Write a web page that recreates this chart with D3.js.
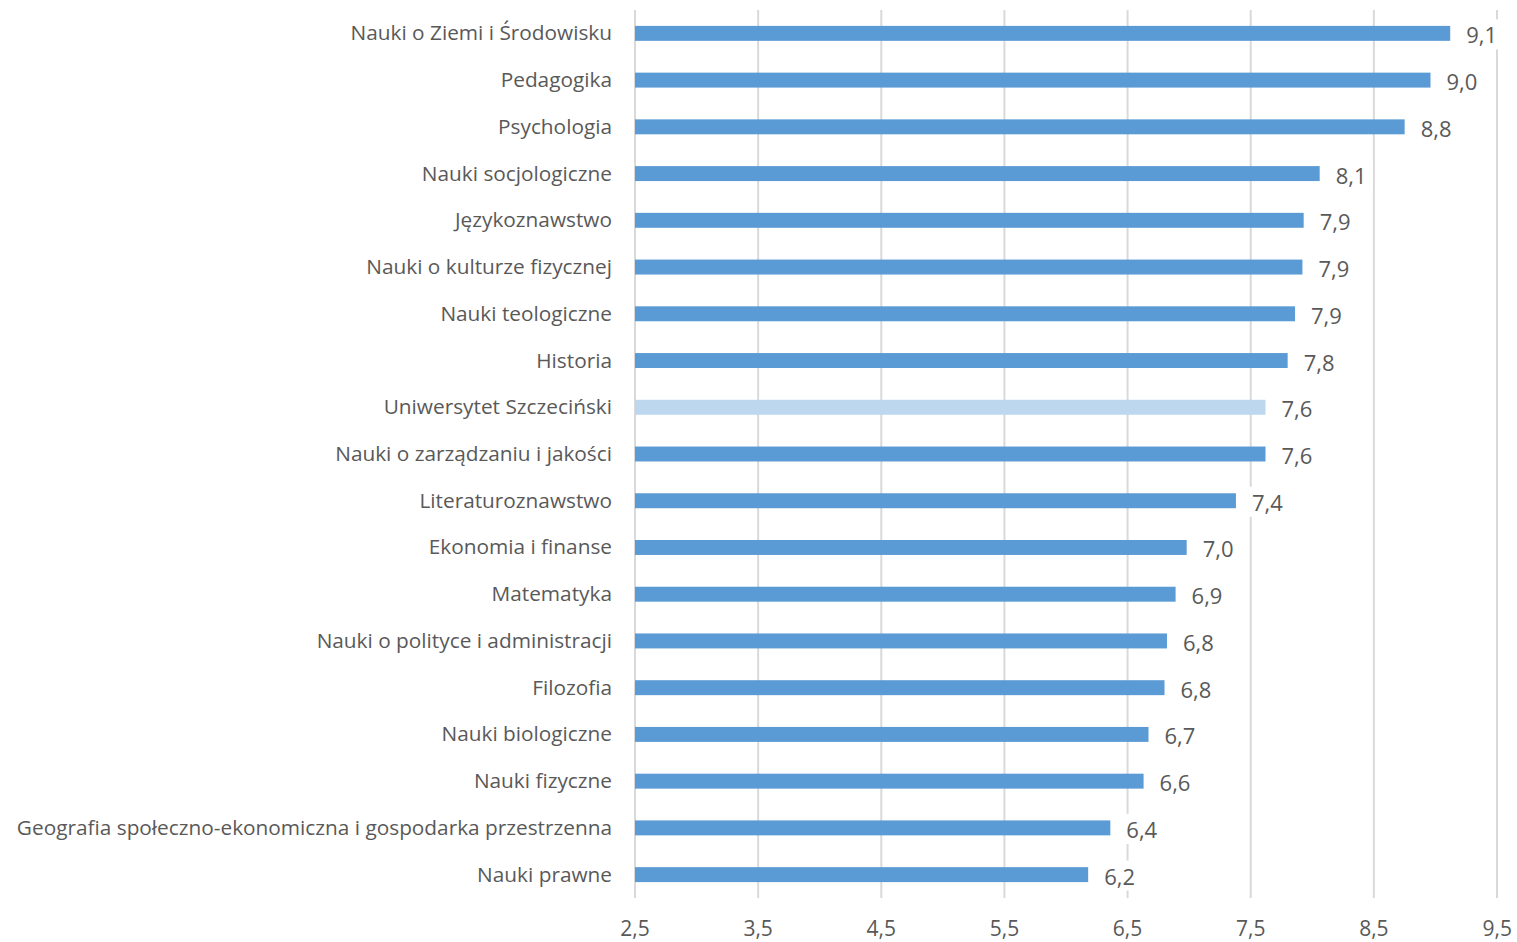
<!DOCTYPE html>
<html>
<head>
<meta charset="utf-8">
<script src="https://cdn.jsdelivr.net/npm/d3@7"></script>
<style>
  body { margin: 0; background: #fff; }
  text { font-family: "Open Sans", sans-serif; fill: #595959; }
</style>
</head>
<body>
<div id="chart"></div>
<script>
var width = 1517
var height = 942
var margin = {top: 10, right: 20, bottom: 44, left: 635}

// categories, top to bottom
var categories = ["Nauki o Ziemi i Środowisku", "Pedagogika", "Psychologia", "Nauki socjologiczne",
    "Językoznawstwo", "Nauki o kulturze fizycznej", "Nauki teologiczne", "Historia",
    "Uniwersytet Szczeciński", "Nauki o zarządzaniu i jakości", "Literaturoznawstwo",
    "Ekonomia i finanse", "Matematyka", "Nauki o polityce i administracji", "Filozofia",
    "Nauki biologiczne", "Nauki fizyczne", "Geografia społeczno-ekonomiczna i gospodarka przestrzenna",
    "Nauki prawne"]
var values = [9.12, 8.96, 8.75, 8.06, 7.93, 7.92, 7.86, 7.80, 7.62, 7.62, 7.38,
    6.98, 6.89, 6.82, 6.80, 6.67, 6.63, 6.36, 6.18]
var highlight = ["Uniwersytet Szczeciński"]
var ticks = [2.5, 3.5, 4.5, 5.5, 6.5, 7.5, 8.5, 9.5]

var data = categories.map(function(c, i) { return {name: c, value: values[i]} })

var svg = d3.select("#chart")
    .append("svg")
    .attr("width", width)
    .attr("height", height)

var x = d3.scaleLinear()
    .domain([2.5, 9.5])
    .range([margin.left, width - margin.right])

var y = d3.scaleBand()
    .domain(categories)
    .range([margin.top, height - margin.bottom])
    .paddingInner(0.68)
    .paddingOuter(0.34)

var fmt = function(v) { return d3.format(".1f")(v).replace(".", ",") }

// grid lines
svg.append("g")
    .selectAll("line")
    .data(ticks)
    .enter()
    .append("line")
    .attr("x1", function(d) { return x(d) })
    .attr("x2", function(d) { return x(d) })
    .attr("y1", margin.top)
    .attr("y2", height - margin.bottom)
    .attr("stroke", "#d9d9d9")
    .attr("stroke-width", 2)

// tick labels (9,5 sits at the right edge, so anchor it inward)
svg.append("g")
    .selectAll("text")
    .data(ticks)
    .enter()
    .append("text")
    .attr("x", function(d) { return x(d) })
    .attr("y", 928)
    .attr("text-anchor", function(d, i) { return i === ticks.length - 1 ? "end" : "middle" })
    .attr("dx", function(d, i) { return i === ticks.length - 1 ? 15 : 0 })
    .attr("dominant-baseline", "central")
    .style("font-size", "21px")
    .text(fmt)

// bars
svg.append("g")
    .selectAll("rect")
    .data(data)
    .enter()
    .append("rect")
    .attr("x", x(2.5))
    .attr("y", function(d) { return y(d.name) })
    .attr("width", function(d) { return x(d.value) - x(2.5) })
    .attr("height", y.bandwidth())
    .attr("fill", function(d) { return highlight.indexOf(d.name) >= 0 ? "#bdd7ee" : "#5b9bd5" })

// category labels
svg.append("g")
    .selectAll("text")
    .data(data)
    .enter()
    .append("text")
    .attr("x", 612)
    .attr("y", function(d) { return y(d.name) + y.bandwidth() / 2 - 1 })
    .attr("text-anchor", "end")
    .attr("dominant-baseline", "central")
    .style("font-size", "20.8px")
    .text(function(d) { return d.name })

// value labels with white background (they hide the grid lines)
var vl = svg.append("g")
    .selectAll("g")
    .data(data)
    .enter()
    .append("g")
    .attr("transform", function(d) { return "translate(" + (x(d.value) + 16) + "," + (y(d.name) + y.bandwidth() / 2 + 1) + ")" })

vl.append("rect")
    .attr("x", -3)
    .attr("y", -15)
    .attr("width", 40)
    .attr("height", 30)
    .attr("fill", "#fff")

vl.append("text")
    .attr("dominant-baseline", "central")
    .style("font-size", "22px")
    .text(function(d) { return fmt(d.value) })
</script>
</body>
</html>
